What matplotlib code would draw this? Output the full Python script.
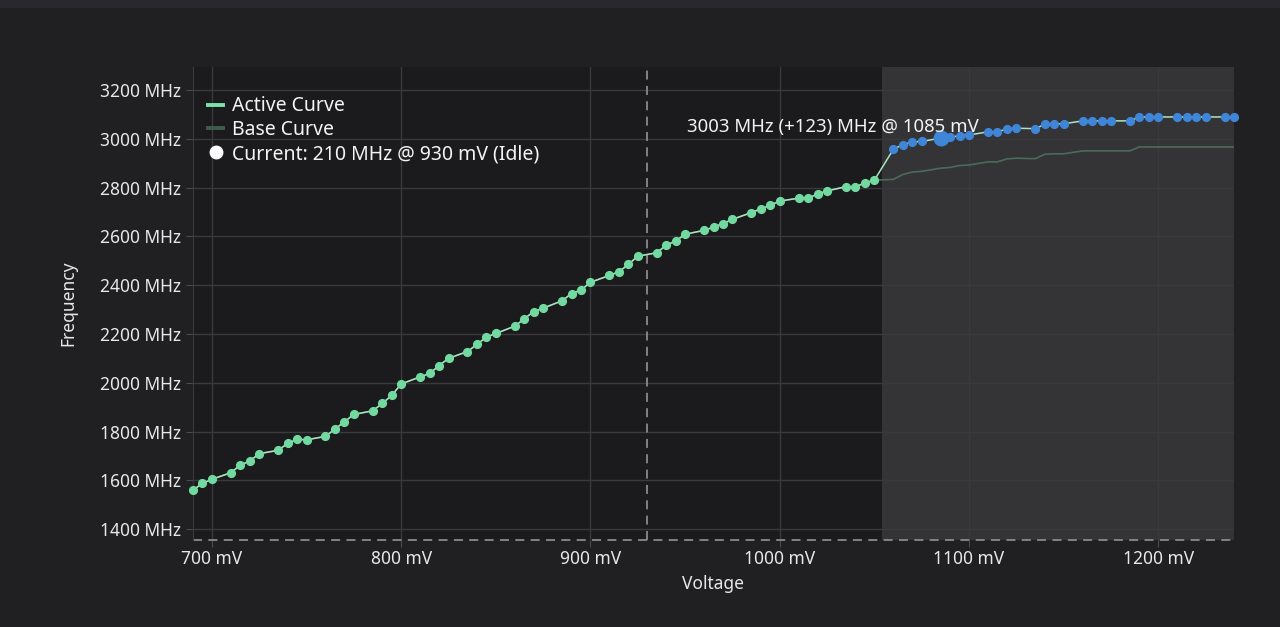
import matplotlib.pyplot as plt
from matplotlib.lines import Line2D
from matplotlib.patches import Rectangle

plt.rcParams['font.family'] = ['Noto Sans', 'DejaVu Sans']

#%% data read off the curve editor
# free points (green)
volt_free = [690, 695, 700, 710, 715, 720, 725, 735, 740, 745, 750, 760, 765, 770, 775,
             785, 790, 795, 800, 810, 815, 820, 825, 835, 840, 845, 850, 860, 865, 870,
             875, 885, 890, 895, 900, 910, 915, 920, 925, 935, 940, 945, 950, 960, 965,
             970, 975, 985, 990, 995, 1000, 1010, 1015, 1020, 1025, 1035, 1040, 1045, 1050]
mhz_free = [1560, 1587, 1604, 1631, 1662, 1679, 1709, 1723, 1751, 1768, 1766, 1780, 1810, 1840, 1870,
            1885, 1915, 1948, 1995, 2024, 2038, 2070, 2100, 2128, 2157, 2187, 2202, 2232, 2262, 2292,
            2306, 2336, 2366, 2380, 2412, 2440, 2455, 2485, 2519, 2533, 2564, 2581, 2609, 2625, 2638,
            2653, 2670, 2698, 2713, 2728, 2745, 2757, 2757, 2774, 2787, 2804, 2804, 2819, 2831]

# locked points (blue) + base curve underneath them
volt_lock = [1060, 1065, 1070, 1075, 1085, 1090, 1095, 1100, 1110, 1115, 1120, 1125, 1135, 1140, 1145,
             1150, 1160, 1165, 1170, 1175, 1185, 1190, 1195, 1200, 1210, 1215, 1220, 1225, 1235, 1240]
mhz_lock = [2957, 2977, 2987, 2990, 3003, 3006, 3014, 3016, 3029, 3029, 3041, 3044, 3042, 3060, 3062,
            3062, 3074, 3074, 3074, 3074, 3074, 3090, 3090, 3090, 3090, 3090, 3090, 3090, 3090, 3090]
base_lock = [2834, 2854, 2864, 2867, 2880, 2883, 2891, 2893, 2906, 2906, 2918, 2921, 2919, 2937, 2939,
             2939, 2951, 2951, 2951, 2951, 2951, 2967, 2967, 2967, 2967, 2967, 2967, 2967, 2967, 2967]

cur_mhz = 210
cur_mv = 930
cur_state = 'Idle'
hover_mv = 1085
lock_from_mv = 1054  # where the shaded (locked) zone starts

yticks = [1400, 1600, 1800, 2000, 2200, 2400, 2600, 2800, 3000, 3200]
xticks = [700, 800, 900, 1000, 1100, 1200]

#%% colours
BG = '#202023'
PLOT_BG = '#1b1a1d'
GREEN = '#72d9a0'
LINE = '#a9e6c0'
BLUE = '#3f86d8'
BASE = '#4b6b5a'
TXT = '#e8e8e8'

volt_all = volt_free + volt_lock
mhz_all = mhz_free + mhz_lock
base_all = mhz_free + base_lock

fig = plt.figure(figsize=(12.8, 6.27), dpi=100, facecolor=BG)
# slightly lighter title strip at the very top
fig.patches.append(Rectangle((0, 1 - 8 / 627), 1, 8 / 627, transform=fig.transFigure,
                             color='#29292d', lw=0))
ax = fig.add_axes([193 / 1280, 87 / 627, 1041 / 1280, 473 / 627])
ax.set_facecolor(PLOT_BG)
ax.set_xlim(min(volt_all), max(volt_all))
ax.set_ylim(1355, 3295)

# locked zone
ax.axvspan(lock_from_mv, max(volt_all), color='white', alpha=0.11, lw=0, zorder=0)

ax.set_xticks(xticks)
ax.set_xticklabels([f'{v} mV' for v in xticks])
ax.set_yticks(yticks)
ax.set_yticklabels([f'{v} MHz' for v in yticks])
ax.grid(color='#3a3a3d', lw=1)
ax.set_axisbelow(True)
for s in ['top', 'right', 'bottom']:
    ax.spines[s].set_visible(False)
ax.spines['left'].set_color('#3a3a3d')
ax.tick_params(colors='#4a4a4d', labelcolor=TXT, labelsize=12.5, length=5, pad=4)
ax.tick_params(axis='x', pad=2.5)

# current position (freq is below the view, so sits on the bottom edge)
ax.axvline(cur_mv, color='#8a8a8c', lw=1.3, ls=(0, (5, 3.5)), zorder=2)
ax.axhline(max(cur_mhz, ax.get_ylim()[0]), color='#8a8a8c', lw=1.3, ls=(0, (5, 3.5)), zorder=2, clip_on=False)

ax.plot(volt_all, base_all, color=BASE, lw=1.2, zorder=3)
ax.plot(volt_all, mhz_all, color=LINE, lw=1.1, zorder=4)
ax.plot(volt_free, mhz_free, 'o', color=GREEN, ms=5.6, zorder=5, clip_on=False)
ax.plot(volt_lock, mhz_lock, 'o', color=BLUE, ms=5.6, zorder=5, clip_on=False)

i = volt_lock.index(hover_mv)
ax.plot(hover_mv, mhz_lock[i], 'o', color=BLUE, ms=10.5, zorder=6)
ax.annotate(f'{mhz_lock[i]} MHz (+{mhz_lock[i] - base_lock[i]}) MHz @ {hover_mv} mV',
            (hover_mv, mhz_lock[i]), xytext=(-108, 11), textcoords='offset pixels',
            ha='center', va='center', color='#f2f2f2', fontsize=13.4, zorder=7)

ax.set_xlabel('Voltage', color=TXT, fontsize=12.5, labelpad=5)
ax.set_ylabel('Frequency', color=TXT, fontsize=12.5, labelpad=16)

handles = [Line2D([], [], color='#7be3a9', lw=2.8),
           Line2D([], [], color='#3e5c4c', lw=2.8),
           Line2D([], [], marker='o', color='white', ls='none', ms=9)]
labels = ['Active Curve', 'Base Curve', f'Current: {cur_mhz} MHz @ {cur_mv} mV ({cur_state})']
leg = ax.legend(handles, labels, loc='upper left', bbox_to_anchor=(-0.002, 0.975), frameon=False,
                fontsize=14, handlelength=0.77, handletextpad=0.46, labelspacing=0.2)
for t in leg.get_texts():
    t.set_color('#f4f4f4')

fig.savefig('out.png', dpi=100, facecolor=BG)
